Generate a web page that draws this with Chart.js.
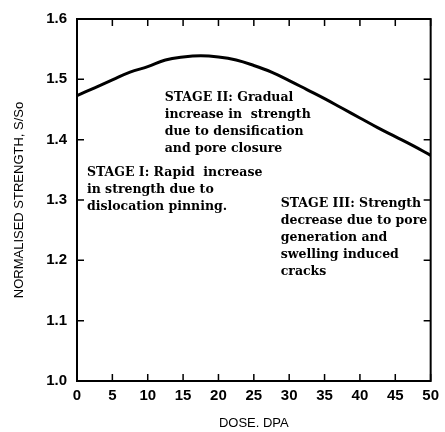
<!DOCTYPE html>
<html>
<head>
<meta charset="utf-8">
<script src="https://cdn.jsdelivr.net/npm/chart.js@4/dist/chart.umd.min.js"></script>
<style>
	html, body { margin: 0; padding: 0; background: #fff; }
	#wrap { width: 445px; height: 432px; }
</style>
</head>
<body>
<div id="wrap"><canvas id="strengthChart" width="445" height="432"></canvas></div>
<script>
// values
const dose = [0, 2.5, 5, 7.5, 10, 12.5, 15, 17.5, 20, 22.5, 25, 27.5, 30, 32.5, 35, 37.5, 40, 42.5, 45, 47.5, 50];
const strength = [1.473, 1.486, 1.499, 1.512, 1.521, 1.532, 1.537, 1.539, 1.537, 1.532, 1.523, 1.512, 1.498, 1.483, 1.468, 1.452, 1.436, 1.420, 1.405, 1.390, 1.374];
const xTicks = [0, 5, 10, 15, 20, 25, 30, 35, 40, 45, 50];
const yTicks = [1.0, 1.1, 1.2, 1.3, 1.4, 1.5, 1.6];

const stage1 = ["STAGE I: Rapid  increase", "in strength due to", "dislocation pinning."];
const stage2 = ["STAGE II: Gradual", "increase in  strength", "due to densification", "and pore closure"];
const stage3 = ["STAGE III: Strength", "decrease due to pore", "generation and", "swelling induced", "cracks"];

// where each note sits, in data units (dose, strength) of its first line
const notes = [
	{ lines: stage1, x: 1.4, y: 1.345 },
	{ lines: stage2, x: 12.4, y: 1.470 },
	{ lines: stage3, x: 28.8, y: 1.294 },
];

const black = "#000";
const tickFont = { family: "'Liberation Sans', Arial, sans-serif", size: 15, weight: "bold" };
const titleFont = { family: "'Liberation Sans', Arial, sans-serif", size: 13 };

// frame with inward ticks on all four sides, plus the stage notes
const framePlugin = {
	id: "frame",
	afterDatasetsDraw(chart) {
		const { ctx, chartArea: a, scales } = chart;
		const len = 7;
		ctx.save();
		ctx.strokeStyle = black;
		ctx.lineWidth = 2;
		ctx.strokeRect(a.left, a.top, a.right - a.left, a.bottom - a.top);
		ctx.lineWidth = 1.5;
		ctx.beginPath();
		xTicks.forEach((v) => {
			const px = scales.x.getPixelForValue(v);
			ctx.moveTo(px, a.bottom);
			ctx.lineTo(px, a.bottom - len);
			ctx.moveTo(px, a.top);
			ctx.lineTo(px, a.top + len);
		});
		yTicks.forEach((v) => {
			const py = scales.y.getPixelForValue(v);
			ctx.moveTo(a.left, py);
			ctx.lineTo(a.left + len, py);
			ctx.moveTo(a.right, py);
			ctx.lineTo(a.right - len, py);
		});
		ctx.stroke();

		ctx.fillStyle = black;
		ctx.font = "bold 12.5px 'DejaVu Serif', serif";
		ctx.textBaseline = "middle";
		ctx.textAlign = "left";
		notes.forEach((n) => {
			const x0 = scales.x.getPixelForValue(n.x);
			const y0 = scales.y.getPixelForValue(n.y);
			n.lines.forEach((line, i) => {
				ctx.fillText(line, x0, y0 + i * 17);
			});
		});
		ctx.restore();
	},
};

new Chart(document.getElementById("strengthChart"), {
	type: "line",
	data: {
		datasets: [
			{
				data: dose.map((d, i) => ({ x: d, y: strength[i] })),
				borderColor: black,
				borderWidth: 3,
				pointRadius: 0,
				tension: 0.4,
				fill: false,
			},
		],
	},
	options: {
		responsive: false,
		animation: false,
		layout: { padding: { top: 16, right: 13, bottom: 0, left: 0 } },
		plugins: { legend: { display: false }, tooltip: { enabled: false } },
		scales: {
			x: {
				type: "linear",
				min: 0,
				max: 50,
				afterBuildTicks: (s) => { s.ticks = xTicks.map((v) => ({ value: v })); },
				afterFit: (s) => { s.height = 51; },
				grid: { display: false, drawTicks: false },
				border: { display: false },
				ticks: { color: black, font: tickFont, padding: 6, maxRotation: 0, callback: (v) => String(v) },
				title: { display: true, text: "DOSE. DPA", color: black, font: titleFont, padding: { top: 0, bottom: 1 } },
			},
			y: {
				min: 1.0,
				max: 1.6,
				afterBuildTicks: (s) => { s.ticks = yTicks.map((v) => ({ value: v })); },
				afterFit: (s) => { s.width = 77; },
				grid: { display: false, drawTicks: false },
				border: { display: false },
				ticks: { color: black, font: tickFont, padding: 10, callback: (v) => Number(v).toFixed(1) },
				title: { display: true, text: "NORMALISED STRENGTH, S/So", color: black, font: titleFont, padding: { top: 12, bottom: 0 } },
			},
		},
	},
	plugins: [framePlugin],
});
</script>
</body>
</html>
